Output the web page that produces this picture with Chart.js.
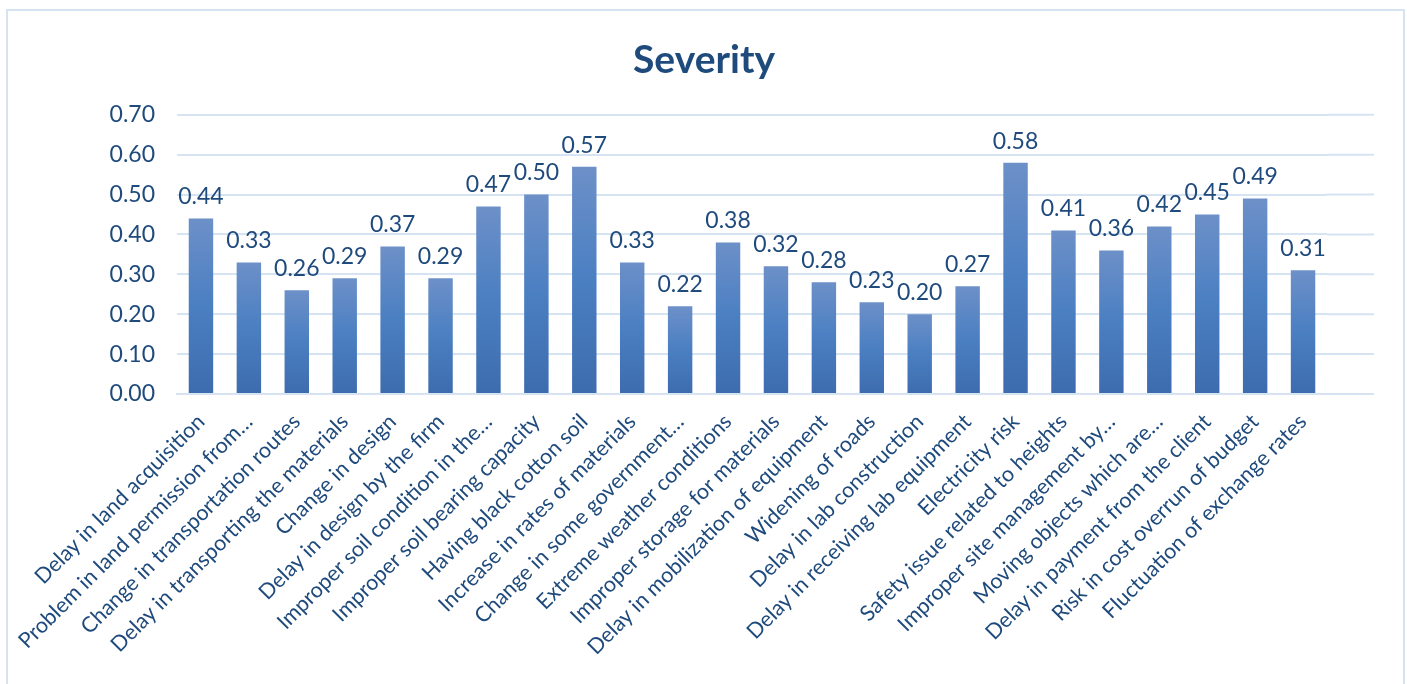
<!DOCTYPE html>
<html>
<head>
<meta charset="utf-8">
<script src="https://cdn.jsdelivr.net/npm/chart.js@4.4.1/dist/chart.umd.min.js"></script>
<style>
  html, body { margin: 0; padding: 0; background: #fff; }
  #wrap { position: absolute; left: 0; top: 0; width: 1407px; height: 684px; }
  #frame { position: absolute; left: 6px; top: 9px; width: 1395px; height: 700px;
           border: 2px solid #D6E3F3; pointer-events: none; }
</style>
</head>
<body>
<div id="wrap">
  <canvas id="severity" width="1407" height="684"></canvas>
  <div id="frame"></div>
</div>
<script>
// categories (long ones are cut short like in the source sheet)
var risks = [
    "Delay in land acquisition",
    "Problem in land permission from\u2026",
    "Change in transportation routes",
    "Delay in transporting the materials",
    "Change in design",
    "Delay in design by the firm",
    "Improper soil condition in the\u2026",
    "Improper soil bearing capacity",
    "Having black cotton soil",
    "Increase in rates of materials",
    "Change in some government\u2026",
    "Extreme weather conditions",
    "Improper storage for materials",
    "Delay in mobilization of equipment",
    "Widening of roads",
    "Delay in lab construction",
    "Delay in receiving lab equipment",
    "Electricity risk",
    "Safety issue related to heights",
    "Improper site management by\u2026",
    "Moving objects which are\u2026",
    "Delay in payment from the client",
    "Risk in cost overrun of budget",
    "Fluctuation of exchange rates"
];
var severity = [0.44, 0.33, 0.26, 0.29, 0.37, 0.29, 0.47, 0.50, 0.57, 0.33, 0.22, 0.38,
                0.32, 0.28, 0.23, 0.20, 0.27, 0.58, 0.41, 0.36, 0.42, 0.45, 0.49, 0.31];
var yTicks = [0, 0.1, 0.2, 0.3, 0.4, 0.5, 0.6, 0.7];

var textColor = '#1F4A7C';
var gridColor = '#D6E3F3';
var fontFam = "Lato, 'Open Sans', sans-serif";

// value labels above bars
var barValues = {
    id: 'barValues',
    afterDatasetsDraw: function (chart) {
        var c = chart.ctx;
        var meta = chart.getDatasetMeta(0);
        c.save();
        c.fillStyle = textColor;
        c.font = '23px ' + fontFam;
        c.textAlign = 'center';
        c.textBaseline = 'bottom';
        meta.data.forEach(function (bar, i) {
            c.fillText(severity[i].toFixed(2), bar.x, bar.y - 10);
        });
        c.restore();
    }
};

// the gridlines in the original run a bit past the last category
var gridTail = {
    id: 'gridTail',
    beforeDatasetsDraw: function (chart) {
        var c = chart.ctx, a = chart.chartArea, y = chart.scales.y;
        c.save();
        c.strokeStyle = gridColor;
        c.lineWidth = 2;
        y.ticks.forEach(function (t) {
            var py = y.getPixelForValue(t.value);
            c.beginPath();
            c.moveTo(a.right, py);
            c.lineTo(a.right + 47, py);
            c.stroke();
        });
        c.restore();
    }
};

var ctx = document.getElementById("severity");
var myChart = new Chart(ctx, {
    type: 'bar',
    data: {
        labels: risks,
        datasets: [{
            label: 'Severity',
            data: severity,
            backgroundColor: function (context) {
                var chart = context.chart;
                var y = chart.scales.y;
                if (!chart.chartArea || !y || context.type !== 'data') return '#4A7EBB';
                var top = y.getPixelForValue(context.raw);
                var bottom = y.getPixelForValue(0);
                if (!isFinite(top) || !isFinite(bottom)) return '#4A7EBB';
                var g = chart.ctx.createLinearGradient(0, top, 0, bottom);
                g.addColorStop(0, '#6D90C8');
                g.addColorStop(0.5, '#4A7FC2');
                g.addColorStop(1, '#3D6CAE');
                return g;
            },
            categoryPercentage: 1.0,
            barPercentage: 0.51
        }]
    },
    plugins: [barValues, gridTail],
    options: {
        responsive: false,
        animation: false,
        layout: { padding: { left: 81, right: 80, top: 0, bottom: 0 } },
        plugins: {
            legend: { display: false },
            tooltip: { enabled: false },
            title: {
                display: true,
                text: 'Severity',
                color: textColor,
                font: { family: fontFam, size: 39, weight: 'bold' },
                padding: { top: 37, bottom: 31 }
            }
        },
        scales: {
            x: {
                grid: { display: false },
                border: { display: true, color: gridColor, width: 2 },
                ticks: {
                    color: textColor,
                    font: { family: fontFam, size: 21.5 },
                    minRotation: 45,
                    maxRotation: 45,
                    autoSkip: false,
                    padding: 7
                },
                afterFit: function (scale) { scale.height = 290; }
            },
            y: {
                min: 0,
                max: 0.7,
                afterBuildTicks: function (scale) {
                    scale.ticks = yTicks.map(function (v) { return { value: v }; });
                },
                grid: { color: gridColor, lineWidth: 2, drawTicks: false },
                border: { display: false },
                ticks: {
                    color: textColor,
                    font: { family: fontFam, size: 23 },
                    padding: 22,
                    callback: function (v) { return Number(v).toFixed(2); }
                },
                afterFit: function (scale) { scale.width = 96; }
            }
        }
    }
});
</script>
</body>
</html>
